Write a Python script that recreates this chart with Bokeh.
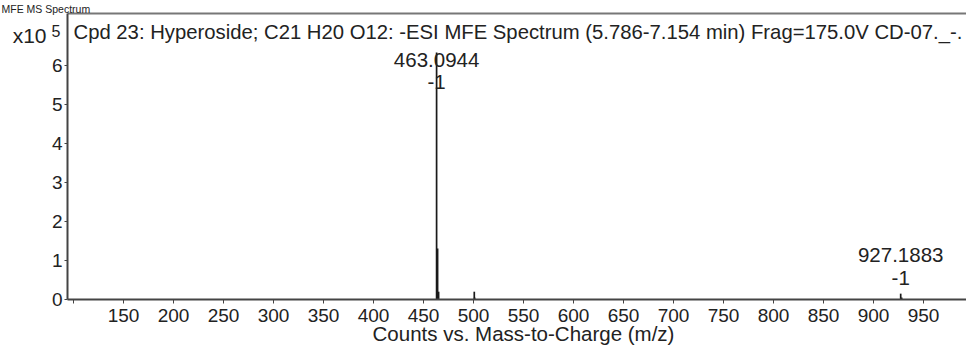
from bokeh.plotting import figure
from bokeh.models import Range1d, FixedTicker, Label, LinearAxis
from bokeh.embed import file_html
from bokeh.resources import INLINE

# ---- data ----
mz = [463.0944, 464.0980, 465.1010, 500.78, 501.10, 927.1883, 928.19]
intensity = [633000, 131000, 20000, 20000, 5000, 15000, 5000]

label_mz = [463.0944, 927.1883]
label_int = [633000, 15000]
label_text = ["463.0944", "927.1883"]
label_charge = ["-1", "-1"]

x_ticks = [100, 150, 200, 250, 300, 350, 400, 450, 500, 550, 600, 650, 700, 750, 800, 850, 900, 950]
y_ticks = [0, 100000, 200000, 300000, 400000, 500000, 600000]
y_tick_labels = ["0", "1", "2", "3", "4", "5", "6"]

title_text = "Cpd 23: Hyperoside; C21 H20 O12: -ESI MFE Spectrum (5.786-7.154 min) Frag=175.0V CD-07._-."
x_title = "Counts vs. Mass-to-Charge (m/z)"
header_text = "MFE MS Spectrum"

# ---- layout constants (pixels / view) ----
W, H = 966, 346
LEFT, TOP, BOTTOM = 67, 13, 299          # plot box edges in canvas pixels
X0, X1 = 94, 993                          # m/z at box left / right
Y1 = 733000                               # counts at box top
FONT = "Liberation Sans"
TXT = "#222222"

px_per_count = (BOTTOM - TOP) / Y1
x_start = X0 - LEFT * (X1 - X0) / (W - LEFT)
y_start = -(H - BOTTOM) / px_per_count
y_end = BOTTOM / px_per_count

p = figure(width=W, height=H, output_backend="svg", toolbar_location=None,
           x_range=Range1d(x_start, X1), y_range=Range1d(y_start, y_end),
           min_border=0, min_border_left=0, min_border_right=0,
           min_border_top=0, min_border_bottom=0)
p.outline_line_color = None
p.grid.visible = False
p.background_fill_color = "white"
p.border_fill_color = "white"

p.segment(x0=mz, y0=[0] * len(mz), x1=mz, y1=intensity, line_color="#1a1a1a", line_width=1.7)

xa = p.xaxis[0]
xa.fixed_location = 0
xa.bounds = (X0, X1)
xa.ticker = FixedTicker(ticks=x_ticks)
xa.major_label_overrides = {100: ""}
xa.minor_tick_line_color = None
xa.major_tick_in = 0
xa.major_tick_out = 4
xa.major_label_standoff = 5
xa.axis_line_width = 2
xa.axis_line_color = "#444444"
xa.major_tick_line_color = "#444444"
xa.major_label_text_font = FONT
xa.major_label_text_font_size = "19px"
xa.major_label_text_color = TXT

ya = p.yaxis[0]
ya.fixed_location = X0
ya.bounds = (0, Y1)
ya.ticker = FixedTicker(ticks=y_ticks)
ya.major_label_overrides = {t: l for t, l in zip(y_ticks, y_tick_labels)}
ya.minor_tick_line_color = None
ya.major_tick_in = 0
ya.major_tick_out = 3
ya.major_label_standoff = 2
ya.axis_line_width = 2
ya.axis_line_color = "#444444"
ya.major_tick_line_color = "#444444"
ya.major_label_text_font = FONT
ya.major_label_text_font_size = "19px"
ya.major_label_text_color = TXT

# top border of the box
top = LinearAxis(fixed_location=Y1, bounds=(X0, X1), ticker=FixedTicker(ticks=[]),
                 axis_line_color="#777777", axis_line_width=2,
                 major_tick_line_color=None, minor_tick_line_color=None,
                 major_label_text_font_size="0px")
p.add_layout(top, "above")

def screen_label(x, y_canvas, text, size, align="left", baseline="middle"):
    p.add_layout(Label(x=x, y=H - y_canvas, x_units="screen", y_units="screen", text=text,
                       text_font=FONT, text_font_size=size, text_color=TXT,
                       text_baseline=baseline, text_align=align))

screen_label(73, 31, title_text, "20.3px")
screen_label(1, 8, header_text, "10.5px", align="left", baseline="alphabetic")
screen_label(46, 35, "x10", "21px", align="right")
screen_label(51, 30, "5", "16px")
screen_label(523, 333, x_title, "20.5px", align="center")

# peak annotations
offsets = [(-7, -29), (39, 16)]
for xm, yi, t, c, (o1, o2) in zip(label_mz, label_int, label_text, label_charge, offsets):
    p.add_layout(Label(x=xm, y=yi, y_offset=o1, text=t, text_font=FONT, text_font_size="20.5px",
                       text_color=TXT, text_baseline="middle", text_align="center"))
    p.add_layout(Label(x=xm, y=yi, y_offset=o2, text=c, text_font=FONT, text_font_size="20.5px",
                       text_color=TXT, text_baseline="middle", text_align="center"))

open("out.html", "w").write(file_html(p, INLINE))
